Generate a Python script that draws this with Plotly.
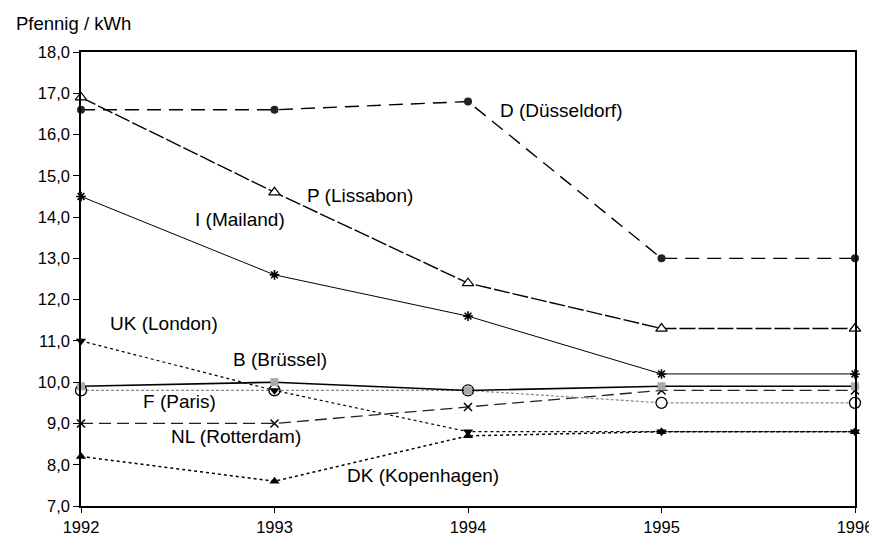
import plotly.graph_objects as go

years = [1992, 1993, 1994, 1995, 1996]

d_duesseldorf = [16.6, 16.6, 16.8, 13.0, 13.0]
p_lissabon = [16.9, 14.6, 12.4, 11.3, 11.3]
i_mailand = [14.5, 12.6, 11.6, 10.2, 10.2]
uk_london = [11.0, 9.8, 8.8, 8.8, 8.8]
b_bruessel = [9.9, 10.0, 9.8, 9.9, 9.9]
f_paris = [9.8, 9.8, 9.8, 9.5, 9.5]
nl_rotterdam = [9.0, 9.0, 9.4, 9.8, 9.8]
dk_kopenhagen = [8.2, 7.6, 8.7, 8.8, 8.8]

y_ticks = [7, 8, 9, 10, 11, 12, 13, 14, 15, 16, 17, 18]

labels = [
    ("D (Düsseldorf)", 1994.48, 16.59),
    ("P (Lissabon)", 1993.44, 14.52),
    ("I (Mailand)", 1992.82, 13.93),
    ("UK (London)", 1992.43, 11.41),
    ("B (Brüssel)", 1993.03, 10.56),
    ("F (Paris)", 1992.51, 9.53),
    ("NL (Rotterdam)", 1992.80, 8.68),
    ("DK (Kopenhagen)", 1993.77, 7.73),
]

FONT = "Liberation Sans, Arial, Helvetica, sans-serif"

fig = go.Figure()

def add(y, line, marker, name):
    fig.add_trace(go.Scatter(x=years, y=y, mode="lines+markers", name=name,
                             line=line, marker=marker, cliponaxis=False))

add(dk_kopenhagen, dict(color="black", width=1.5, dash="dot"),
    dict(symbol="triangle-up", size=9, color="black"), "DK")
add(nl_rotterdam, dict(color="#222222", width=1.3, dash="12px,6px"),
    dict(symbol="x-thin-open", size=8, color="black", line=dict(width=1.5, color="black")), "NL")
add(f_paris, dict(color="#888888", width=1.2, dash="3px,2px"),
    dict(symbol="circle", size=11, color="white", line=dict(width=1.3, color="black")), "F")
add(uk_london, dict(color="black", width=1.2, dash="dot"),
    dict(symbol="triangle-down", size=9, color="black"), "UK")
add(b_bruessel, dict(color="black", width=1.6),
    dict(symbol="square", size=8, color="#aaaaaa", line=dict(width=0)), "B")
add(i_mailand, dict(color="black", width=1),
    dict(symbol="asterisk-open", size=8, color="black", line=dict(width=1.6, color="black")), "I")
add(p_lissabon, dict(color="black", width=1.4, dash="16px,3px"),
    dict(symbol="triangle-up", size=10, color="white", line=dict(width=1.2, color="black")), "P")
add(d_duesseldorf, dict(color="black", width=1.4, dash="14px,8px"),
    dict(symbol="circle", size=8, color="#222222"), "D")

for text, x, y in labels:
    fig.add_annotation(x=x, y=y, text=text, showarrow=False,
                       font=dict(family=FONT, size=19, color="black"),
                       xanchor="center", yanchor="middle")

fig.add_annotation(xref="paper", yref="paper", x=-67/779, y=1 + 29/463,
                   text="Pfennig / kWh", showarrow=False, xanchor="left", yanchor="middle",
                   font=dict(family=FONT, size=18.5, color="black"))

fig.update_layout(
    width=877, height=540,
    margin=dict(l=73, r=25, t=44, b=33),
    paper_bgcolor="white", plot_bgcolor="white",
    showlegend=False,
    separators=",.",
    font=dict(family=FONT, size=16.5, color="black"),
)
fig.update_xaxes(range=[1992, 1996], tickvals=years, ticktext=[str(y) for y in years],
                 showgrid=False, zeroline=False, showline=True, linecolor="black",
                 linewidth=1.5, mirror=True, ticks="outside", ticklen=5,
                 tickcolor="black", tickwidth=1.2, tickfont=dict(size=16.5))
fig.update_yaxes(range=[7, 18], tickvals=y_ticks, tickformat=".1f",
                 showgrid=False, zeroline=False, showline=True, linecolor="black",
                 linewidth=1.5, mirror=True, ticks="outside", ticklen=6,
                 tickcolor="black", tickwidth=1.2, tickfont=dict(size=16.5))

fig.write_html("out.html")
